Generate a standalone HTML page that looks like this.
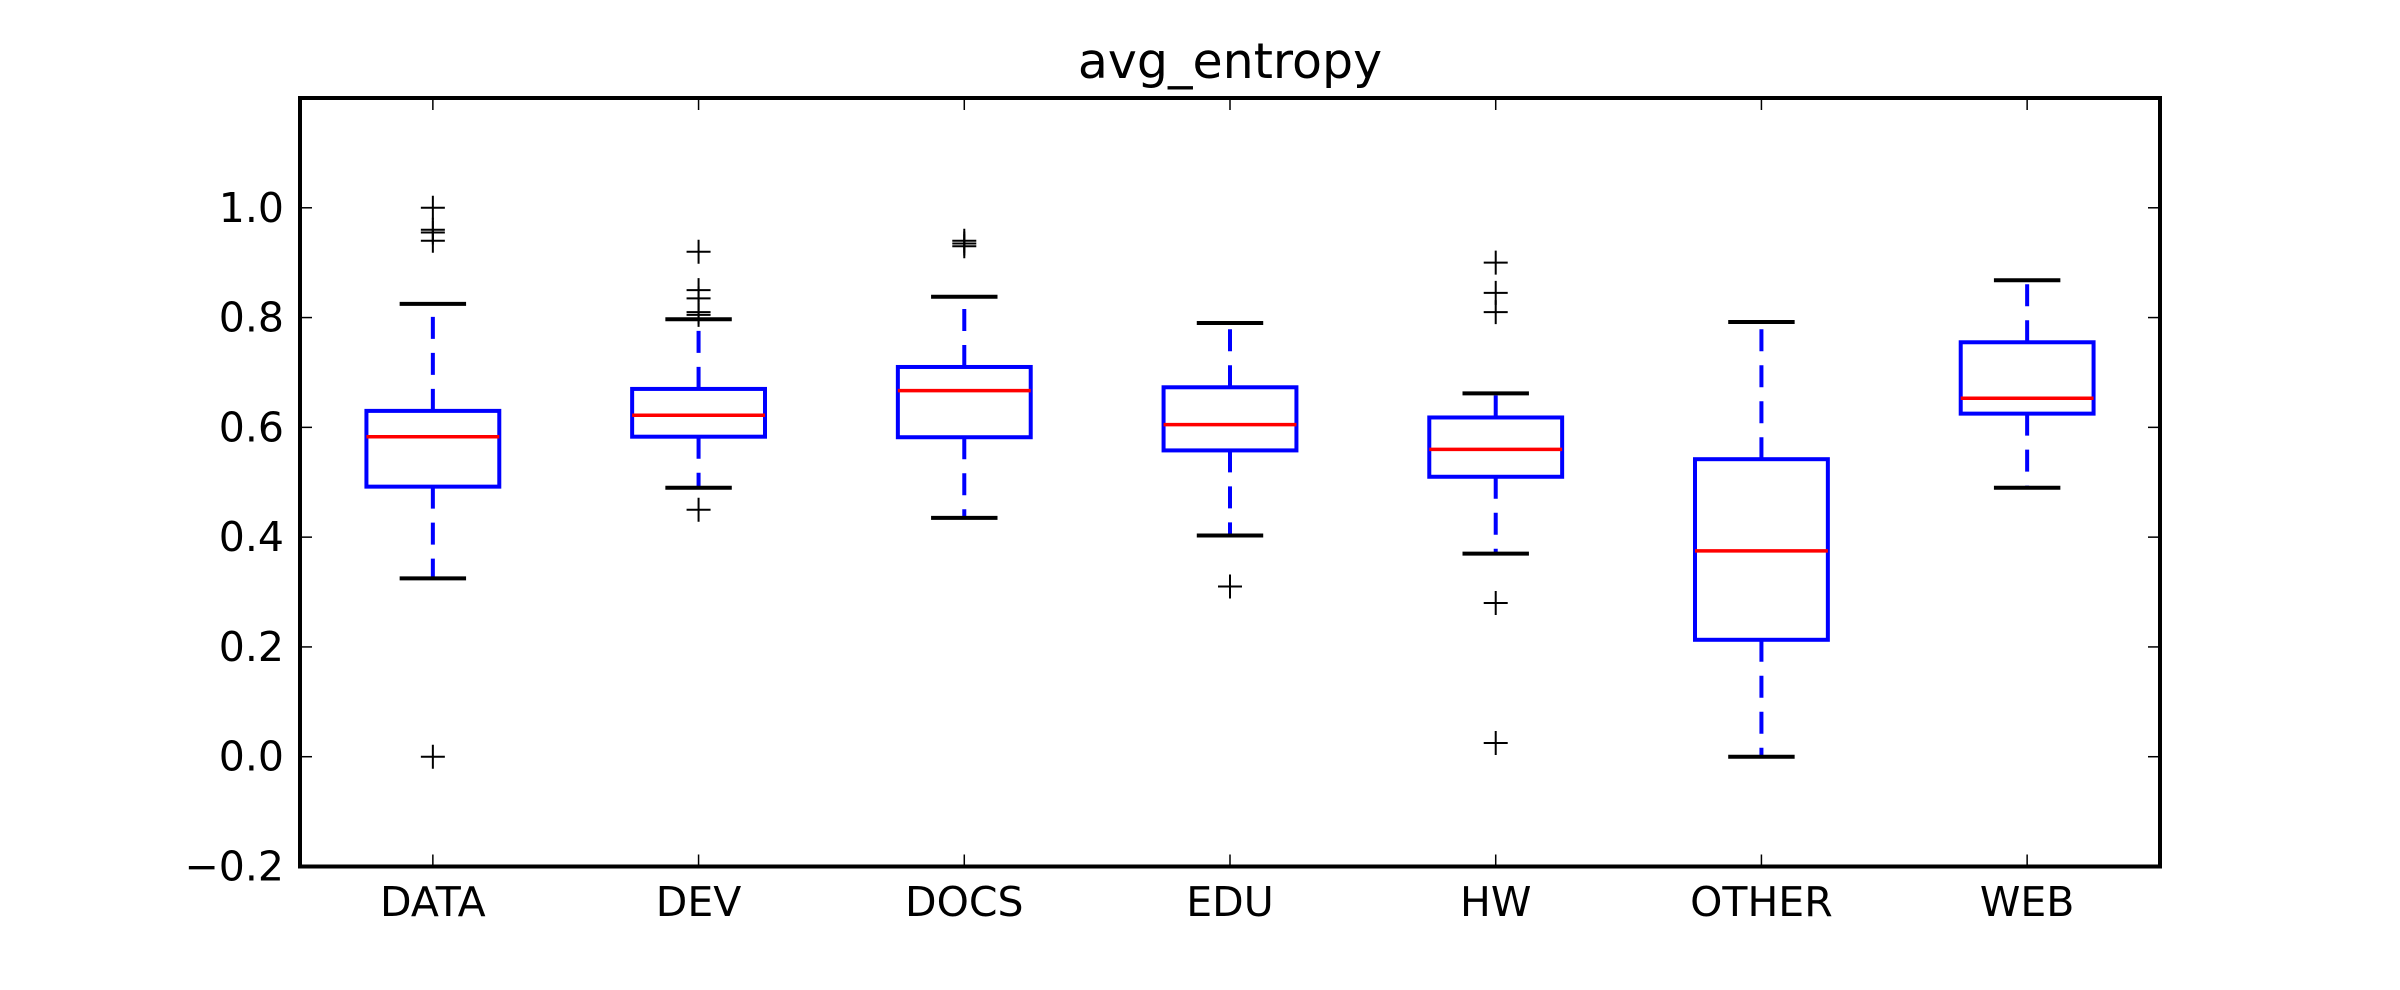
<!DOCTYPE html>
<html><head><meta charset="utf-8"><style>html,body{margin:0;padding:0;background:#fff}svg{display:block}</style></head>
<body>
<svg id="chart" width="2400" height="990" xmlns="http://www.w3.org/2000/svg" font-family="'DejaVu Sans','Liberation Sans',sans-serif"></svg>
<script>
const categories = ["DATA","DEV","DOCS","EDU","HW","OTHER","WEB"];
const whiskLow = [0.325,0.49,0.435,0.403,0.37,0.0,0.49];
const q1 = [0.492,0.583,0.582,0.558,0.51,0.213,0.625];
const median = [0.583,0.622,0.667,0.605,0.56,0.375,0.653];
const q3 = [0.630,0.67,0.71,0.673,0.618,0.542,0.755];
const whiskHigh = [0.825,0.797,0.838,0.79,0.662,0.792,0.868];
const fliers = [[1.0,0.96,0.955,0.94,0.0],[0.92,0.85,0.835,0.81,0.805,0.45],[0.94,0.935,0.93],[0.31],[0.9,0.845,0.81,0.28,0.025],[],[]];
const yTicks = [-0.2,0.0,0.2,0.4,0.6,0.8,1.0];
const yTickLabels = ["\u22120.2","0.0","0.2","0.4","0.6","0.8","1.0"];

const svg = document.getElementById('chart');
const NS = 'http://www.w3.org/2000/svg';
const L=300, R=2160, T=98, B=866.5;
const yMin=-0.2, yMax=1.2;
const y = v => B - (v - yMin)/(yMax - yMin)*(B - T);
const step = (R-L)/categories.length;
const x = i => L + step*(i+0.5);
function mk(tag, attrs){const e=document.createElementNS(NS,tag);for(const k in attrs)e.setAttribute(k,attrs[k]);svg.appendChild(e);return e;}

let t = mk('text',{x:(L+R)/2,y:78,'font-size':49,'text-anchor':'middle',fill:'#000'});
t.textContent='avg_entropy';



yTicks.forEach((v,i)=>{
  let a=mk('line',{x1:L,x2:L+12,y1:y(v),y2:y(v),stroke:'#000','stroke-width':1.5});
  
  
  let b=mk('line',{x1:R-12,x2:R,y1:y(v),y2:y(v),stroke:'#000','stroke-width':1.5});
  
  
  let tx=mk('text',{x:L-16,y:y(v)+14,'font-size':41,'text-anchor':'end',fill:'#000'});
  tx.textContent=yTickLabels[i];
  
  
});

categories.forEach((c,i)=>{
  const cx=x(i), hw=step*0.25, cw=step*0.125;
  let a=mk('line',{x1:cx,x2:cx,y1:T,y2:T+12,stroke:'#000','stroke-width':1.5});
  
  
  let b=mk('line',{x1:cx,x2:cx,y1:B-12,y2:B,stroke:'#000','stroke-width':1.5});
  
  
  let tx=mk('text',{x:cx,y:916,'font-size':41,'text-anchor':'middle',fill:'#000'});
  tx.textContent=c;
  
  

  let w1=mk('line',{x1:cx,x2:cx,y1:y(q3[i]),y2:y(whiskHigh[i]),stroke:'#0000ff','stroke-width':4,'stroke-dasharray':'22 14'});
  
  
  let w2=mk('line',{x1:cx,x2:cx,y1:y(q1[i]),y2:y(whiskLow[i]),stroke:'#0000ff','stroke-width':4,'stroke-dasharray':'22 14'});
  
  
  let c1=mk('line',{x1:cx-cw,x2:cx+cw,y1:y(whiskHigh[i]),y2:y(whiskHigh[i]),stroke:'#000','stroke-width':4});
  
  
  let c2=mk('line',{x1:cx-cw,x2:cx+cw,y1:y(whiskLow[i]),y2:y(whiskLow[i]),stroke:'#000','stroke-width':4});
  
  
  let bx=mk('rect',{x:cx-hw,y:y(q3[i]),width:2*hw,height:y(q1[i])-y(q3[i]),fill:'none',stroke:'#0000ff','stroke-width':4});
  
  
  let md=mk('line',{x1:cx-hw,x2:cx+hw,y1:y(median[i]),y2:y(median[i]),stroke:'#ff0000','stroke-width':3.5});
  
  
  fliers[i].forEach(v=>{
    const s=12, py=y(v);
    let p=mk('path',{d:`M${cx-s},${py}H${cx+s}M${cx},${py-s}V${py+s}`,stroke:'#000','stroke-width':2,fill:'none'});
    
    
  });
});

let frame=mk('rect',{x:L,y:T,width:R-L,height:B-T,fill:'none',stroke:'#000','stroke-width':4});


</script>
</body></html>
